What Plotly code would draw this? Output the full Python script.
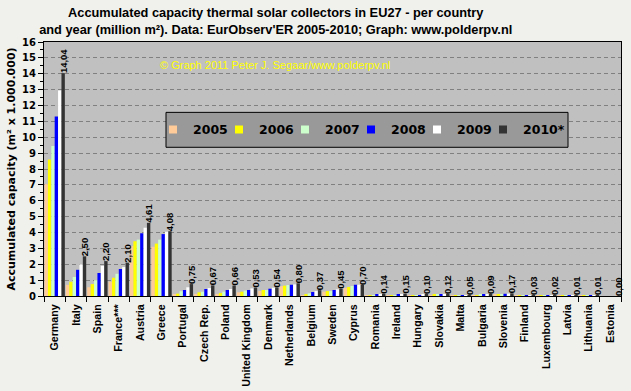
import plotly.graph_objects as go

countries = ["Germany", "Italy", "Spain", "France***", "Austria", "Greece", "Portugal",
             "Czech Rep.", "Poland", "United Kingdom", "Denmark", "Netherlands", "Belgium",
             "Sweden", "Cyprus", "Romania", "Ireland", "Hungary", "Slovakia", "Malta",
             "Bulgaria", "Slovenia", "Finland", "Luxembourg", "Latvia", "Lithuania", "Estonia"]

years = ["2005", "2006", "2007", "2008", "2009", "2010*"]

v2005 = [7.05, 0.70, 0.55, 0.90, 3.15, 3.10, 0.10, 0.13, 0.13, 0.23, 0.31, 0.62, 0.04,
         0.27, 0.52, 0.05, 0.01, 0.03, 0.06, 0.02, 0.05, 0.10, 0.01, 0.01, 0.005, 0.005, 0.0]
v2006 = [8.60, 0.90, 0.75, 1.15, 3.45, 3.30, 0.15, 0.23, 0.19, 0.27, 0.38, 0.65, 0.08,
         0.31, 0.57, 0.05, 0.02, 0.04, 0.07, 0.025, 0.06, 0.11, 0.015, 0.01, 0.006, 0.006, 0.0]
v2007 = [9.45, 1.20, 1.00, 1.40, 3.55, 3.55, 0.30, 0.27, 0.27, 0.34, 0.38, 0.69, 0.17,
         0.31, 0.63, 0.06, 0.05, 0.05, 0.08, 0.03, 0.07, 0.12, 0.02, 0.012, 0.007, 0.007, 0.0]
v2008 = [11.30, 1.65, 1.45, 1.70, 3.95, 3.90, 0.38, 0.44, 0.38, 0.38, 0.46, 0.71, 0.25,
         0.38, 0.71, 0.12, 0.08, 0.06, 0.09, 0.04, 0.08, 0.14, 0.02, 0.015, 0.008, 0.008, 0.0]
v2009 = [12.95, 2.00, 1.90, 1.82, 4.30, 4.05, 0.55, 0.50, 0.44, 0.48, 0.52, 0.73, 0.31,
         0.42, 0.71, 0.10, 0.12, 0.08, 0.10, 0.045, 0.09, 0.15, 0.025, 0.018, 0.009, 0.009, 0.0]
v2010 = [14.04, 2.50, 2.20, 2.10, 4.61, 4.08, 0.75, 0.67, 0.66, 0.53, 0.54, 0.80, 0.37,
         0.45, 0.70, 0.14, 0.15, 0.10, 0.12, 0.05, 0.09, 0.17, 0.03, 0.02, 0.01, 0.01, 0.00]

colors = ["#FFCC99", "#FFFF00", "#CCFFCC", "#0000FF", "#FFFFFF", "#333333"]
series = [v2005, v2006, v2007, v2008, v2009, v2010]

fig = go.Figure()
for i, (name, vals, col) in enumerate(zip(years, series, colors)):
    last = i == len(series) - 1
    fig.add_trace(go.Bar(
        x=countries, y=vals, name=name, marker=dict(color=col, line=dict(width=0)),
        showlegend=False,
        text=[f"{v:.2f}".replace(".", ",") for v in vals] if last else None,
        textposition="outside" if last else "none",
        textangle=-90,
        constraintext="none",
        cliponaxis=False,
        textfont=dict(family="Liberation Sans", size=9.5, color="black", weight="bold"),
    ))
    fig.add_trace(go.Scatter(
        x=[None], y=[None], mode="markers", name=name,
        marker=dict(symbol="square", size=8, color=col, line=dict(width=0)),
        showlegend=True,
    ))
# invisible spacer entry so the last legend label is not clipped
fig.add_trace(go.Scatter(x=[None], y=[None], mode="markers", name=" ",
                         marker=dict(size=1, color="rgba(0,0,0,0)"), showlegend=True,
                         hoverinfo="skip"))

fig.update_layout(
    width=631, height=391,
    margin=dict(l=44, r=10, t=42, b=95),
    paper_bgcolor="#F0F0EC",
    plot_bgcolor="#C0C0C0",
    barmode="group", bargap=0.05, bargroupgap=0,
    title=dict(
        text="Accumulated capacity thermal solar collectors in EU27 - per country<br>"
             "and year (million m²). Data: EurObserv'ER 2005-2010; Graph: www.polderpv.nl",
        x=0.437, xanchor="center", y=1 - 17 / 391, yanchor="top", yref="container",
        font=dict(family="Liberation Sans", size=12.8, color="black", weight="bold"),
    ),
    showlegend=True,
    legend=dict(
        orientation="h", x=(153 - 44) / 577, xanchor="left", y=(296 - 129.5) / 254.5,
        yanchor="middle",
        bgcolor="rgba(0,0,0,0)", borderwidth=0,
        font=dict(family="DejaVu Sans", size=12.5, color="black", weight="bold"),
        entrywidth=21, entrywidthmode="pixels",
    ),
    shapes=[dict(type="rect", xref="paper", yref="paper",
                 x0=(166 - 44) / 577, x1=(568 - 44) / 577,
                 y0=(296 - 147) / 254.5, y1=(296 - 112) / 254.5,
                 fillcolor="#999999", line=dict(color="black", width=1), layer="above")],
    annotations=[dict(text="© Graph 2011 Peter J. Segaar/www.polderpv.nl",
                      x=(275 - 44) / 577, y=(296 - 65) / 254.5, xref="paper", yref="paper",
                      xanchor="center", yanchor="middle",
                      showarrow=False, font=dict(family="Liberation Sans", size=11, color="#FFFF00"))],
)

fig.update_xaxes(
    type="category", tickangle=-90, tickson="boundaries", ticks="outside", ticklen=5,
    tickcolor="black", showline=True, linecolor="black", linewidth=1, mirror=True,
    tickfont=dict(family="Liberation Sans", size=10.7, color="black", weight="bold"),
    ticklabelstandoff=3, automargin=False,
    showgrid=False,
)
fig.update_yaxes(
    range=[0, 16], dtick=1, ticks="outside", ticklen=5, tickcolor="black",
    showline=True, linecolor="black", linewidth=1, mirror=True,
    showgrid=True, gridcolor="#808080", griddash="4px,3px", gridwidth=1,
    minor=dict(dtick=0.5, ticks="outside", ticklen=3, tickcolor="black", showgrid=False),
    tickfont=dict(family="DejaVu Sans", size=10, color="black", weight="bold"),
    title=dict(text="Accumulated capacity (m² x 1.000.000)", standoff=4,
               font=dict(family="DejaVu Sans", size=11, color="black", weight="bold")),
    zeroline=False, automargin=False,
)

fig.write_html("out.html", config={"displayModeBar": False},
               post_script="document.body.style.margin='0';")
